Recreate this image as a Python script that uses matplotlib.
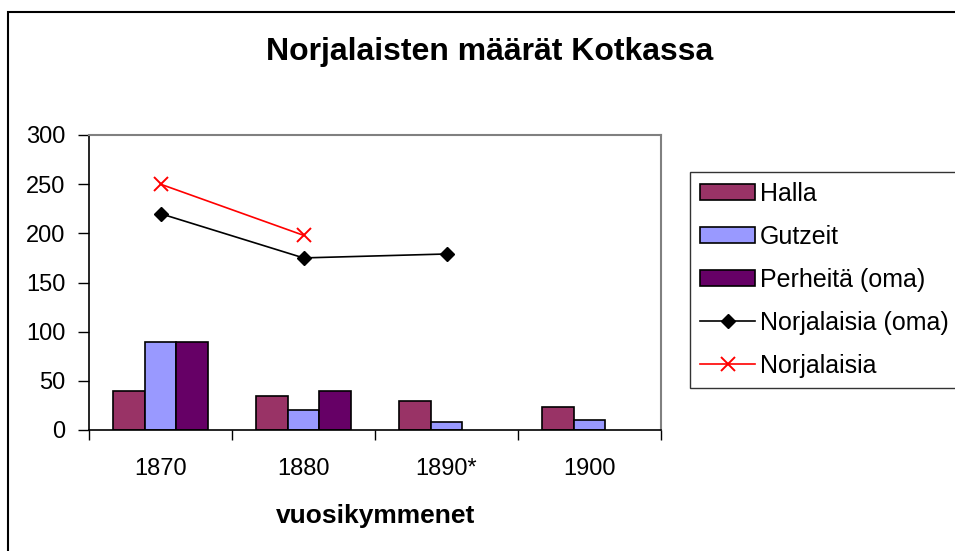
import numpy as np
import matplotlib
matplotlib.use("Agg")
import matplotlib.pyplot as plt
from matplotlib.patches import Rectangle
from matplotlib.ticker import FixedLocator

plt.rcParams["font.family"] = ["Liberation Sans", "DejaVu Sans"]

decades = ["1870", "1880", "1890*", "1900"]
halla = [40, 35, 29, 23]
gutzeit = [90, 20, 8, 10]
perheita = [90, 40, np.nan, np.nan]
norj_oma = [220, 175, 179, np.nan]
norjalaisia = [250, 198, np.nan, np.nan]

fig = plt.figure(figsize=(9.55, 5.51), dpi=100)
ax = fig.add_axes([89 / 955, 121 / 551, 572 / 955, 295 / 551])

x = np.arange(len(decades))
w = 0.22
b1 = ax.bar(x - w, halla, w, color="#993366", edgecolor="black",
            linewidth=1.2, label="Halla", zorder=2)
b2 = ax.bar(x, gutzeit, w, color="#9999FF", edgecolor="black",
            linewidth=1.2, label="Gutzeit", zorder=2)
b3 = ax.bar(x + w, perheita, w, color="#660066", edgecolor="black",
            linewidth=1.2, label="Perheitä (oma)", zorder=2)
l1, = ax.plot(x, norj_oma, color="black", lw=1.2, marker="D", markersize=7,
              label="Norjalaisia (oma)", zorder=3)
l2, = ax.plot(x, norjalaisia, color="red", lw=1.2, marker="x", markersize=10,
              markeredgewidth=1.4, label="Norjalaisia", zorder=3)

ax.set_xlim(-0.5, 3.5)
ax.set_ylim(0, 300)
ax.set_yticks(range(0, 301, 50))
ax.set_xticks(x)
ax.set_xticklabels(decades)
ax.xaxis.set_minor_locator(FixedLocator(np.arange(-0.5, 3.6, 1)))
ax.tick_params(axis="x", which="major", length=0, pad=20, labelsize=17)
ax.tick_params(axis="x", which="minor", length=7, width=1, direction="out")
ax.tick_params(axis="y", length=8, width=1, direction="out", pad=9,
               labelsize=17)

for side in ["left", "bottom"]:
    ax.spines[side].set_color("black")
    ax.spines[side].set_linewidth(1.2)
for side in ["top", "right"]:
    ax.spines[side].set_color("#808080")
    ax.spines[side].set_linewidth(1.5)

fig.text(490 / 955, 1 - 52 / 551, "Norjalaisten määrät Kotkassa",
         ha="center", va="center", fontsize=23, fontweight="bold")
fig.text(376 / 955, 1 - 516 / 551, "vuosikymmenet", ha="center",
         va="center", fontsize=19, fontweight="bold")

leg = fig.legend([b1, b2, b3, l1, l2],
                 ["Halla", "Gutzeit", "Perheitä (oma)", "Norjalaisia (oma)",
                  "Norjalaisia"],
                 loc="upper left", bbox_to_anchor=(690 / 955, 1 - 172 / 551),
                 borderaxespad=0, fontsize=18, frameon=True, fancybox=False,
                 handlelength=2.2, handletextpad=0.2, borderpad=0.4,
                 labelspacing=0.76, handleheight=0.64)
leg.get_frame().set_edgecolor("black")
leg.get_frame().set_linewidth(1)

fig.patches.append(Rectangle((8 / 955, -0.1), 1.2, 1.1 - 12 / 551,
                             transform=fig.transFigure, fill=False,
                             edgecolor="black", linewidth=1.5))

fig.savefig("out.png", dpi=100)
